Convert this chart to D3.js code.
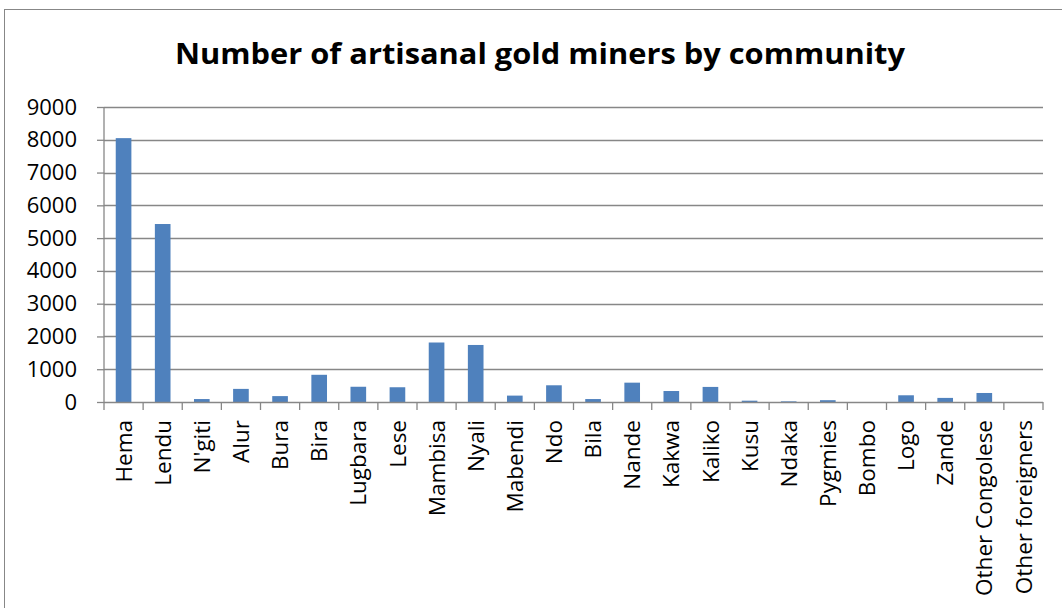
<!DOCTYPE html>
<html>
<head>
<meta charset="utf-8">
<script src="https://cdn.jsdelivr.net/npm/d3@7"></script>
<style>
  html, body { margin: 0; padding: 0; background: #fff; }
  svg { display: block; }
  text { font-family: "Open Sans", "Noto Sans", sans-serif; fill: #000; }
</style>
</head>
<body>
<svg id="chart" width="1062" height="608"></svg>
<script>
// Communities and the number of artisanal gold miners in each
const communities = [
  "Hema", "Lendu", "N'giti", "Alur", "Bura", "Bira", "Lugbara", "Lese",
  "Mambisa", "Nyali", "Mabendi", "Ndo", "Bila", "Nande", "Kakwa", "Kaliko",
  "Kusu", "Ndaka", "Pygmies", "Bombo", "Logo", "Zande", "Other Congolese",
  "Other foreigners"
];
const miners = [
  8050, 5430, 90, 400, 180, 830, 465, 450,
  1815, 1740, 195, 510, 90, 590, 335, 460,
  40, 20, 55, 0, 205, 125, 275,
  0
];
const yTicks = [0, 1000, 2000, 3000, 4000, 5000, 6000, 7000, 8000, 9000];
const chartTitle = "Number of artisanal gold miners by community";

const W = 1062, H = 608;
const plot = { left: 104, right: 1043, top: 107, bottom: 402 };
const gray = "#878787";
const barColor = "#4F81BD";

const svg = d3.select("#chart");

// outer chart frame
svg.append("rect")
  .attr("x", 4.5).attr("y", 9.5)
  .attr("width", W + 20).attr("height", H + 20)
  .attr("fill", "none").attr("stroke", gray).attr("stroke-width", 1);

// title
svg.append("text")
  .attr("x", 540).attr("y", 64)
  .attr("text-anchor", "middle")
  .attr("textLength", 730)
  .attr("lengthAdjust", "spacingAndGlyphs")
  .style("font-size", "29px").style("font-weight", "bold")
  .text(chartTitle);

const x = d3.scaleBand()
  .domain(communities)
  .range([plot.left, plot.right])
  .paddingInner(0.6).paddingOuter(0.3);

const y = d3.scaleLinear()
  .domain([0, 9000])
  .range([plot.bottom, plot.top]);

// horizontal gridlines
svg.append("g")
  .selectAll("line")
  .data(yTicks.filter(d => d > 0))
  .join("line")
  .attr("x1", plot.left).attr("x2", plot.right)
  .attr("y1", d => Math.round(y(d)) + 0.5).attr("y2", d => Math.round(y(d)) + 0.5)
  .attr("stroke", gray).attr("stroke-width", 1.3);

// bars
svg.append("g")
  .selectAll("rect")
  .data(communities.map((c, i) => ({ c, v: miners[i] })))
  .join("rect")
  .attr("x", d => x(d.c))
  .attr("width", x.bandwidth())
  .attr("y", d => y(d.v))
  .attr("height", d => y(0) - y(d.v))
  .attr("fill", barColor);

// y axis
const yAxis = svg.append("g")
  .attr("transform", `translate(${plot.left},0)`)
  .call(d3.axisLeft(y).tickValues(yTicks).tickSize(7).tickPadding(20).tickFormat(d3.format("d")));
yAxis.selectAll("path, line").attr("stroke", gray).attr("stroke-width", 1.3);
yAxis.select(".domain").attr("d", `M0,${plot.top}V${plot.bottom}`);
yAxis.selectAll("text").style("font-size", "22px").style("font-family", "'Open Sans', sans-serif").attr("fill", "#000");

// x axis: baseline with tick marks at band boundaries
const edges = d3.range(communities.length + 1).map(i => plot.left + i * (plot.right - plot.left) / communities.length);
const xg = svg.append("g");
xg.append("line")
  .attr("x1", plot.left).attr("x2", plot.right)
  .attr("y1", plot.bottom + 0.5).attr("y2", plot.bottom + 0.5)
  .attr("stroke", gray).attr("stroke-width", 1.3);
xg.selectAll("line.tick")
  .data(edges)
  .join("line")
  .attr("class", "tick")
  .attr("x1", d => d).attr("x2", d => d)
  .attr("y1", plot.bottom).attr("y2", plot.bottom + 8)
  .attr("stroke", gray).attr("stroke-width", 1.3);

// rotated category labels
xg.selectAll("text")
  .data(communities)
  .join("text")
  .attr("transform", d => `translate(${x(d) + x.bandwidth() / 2},420) rotate(-90)`)
  .attr("text-anchor", "end")
  .attr("dy", "0.36em")
  .style("font-size", "22.5px")
  .text(d => d);
</script>
</body>
</html>
